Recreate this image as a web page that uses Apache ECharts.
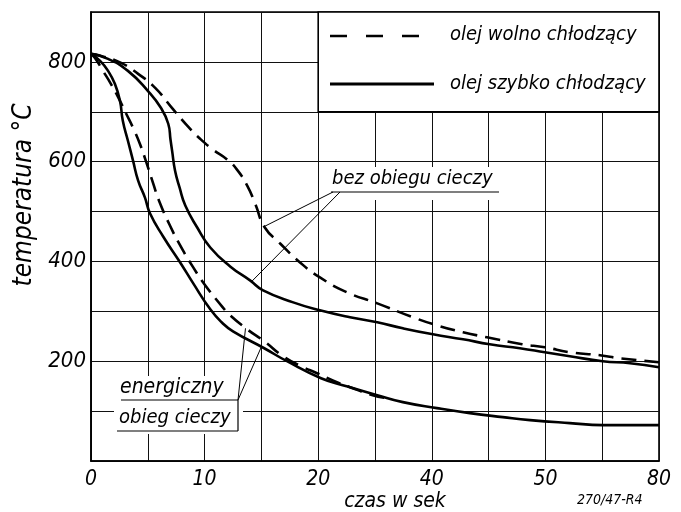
<!DOCTYPE html>
<html><head><meta charset="utf-8">
<script src="https://cdn.jsdelivr.net/npm/echarts/dist/echarts.min.js"></script>
<style>html,body{margin:0;padding:0;background:#fff}#c{width:681px;height:512px}</style>
</head><body><div id="c"></div>
<script>
// x positions are in grid columns (0..10); labelled every 2 columns
const xTickLabels = ['0', '10', '20', '40', '50', '80'];
const yTickLabels = [200, 400, 600, 800];

// olej wolno chłodzący – bez obiegu cieczy (dashed)
const slowNoneX = [0, 0.18, 0.53, 0.83, 1.13, 1.41, 1.71, 1.92, 2.15, 2.39, 2.57, 2.75, 2.89, 3.06, 3.33, 3.68, 4.03, 4.51, 5.04, 5.67, 6.09, 6.55, 6.97, 7.59, 7.99, 8.43, 8.96, 9.31, 10];
const slowNoneY = [816, 812, 798, 776, 748, 710, 670, 646, 624, 605, 584, 552, 516, 468, 436, 398, 368, 338, 316, 288, 272, 258, 248, 234, 228, 218, 212, 206, 198];
// olej szybko chłodzący – bez obiegu cieczy (solid)
const fastNoneX = [0, 0.3, 0.65, 1.0, 1.23, 1.36, 1.40, 1.43, 1.48, 1.56, 1.66, 1.87, 2.1, 2.45, 2.8, 3.03, 3.56, 4.03, 4.56, 5.04, 5.49, 6.02, 6.55, 7.02, 7.55, 7.99, 8.43, 9.01, 9.49, 10];
const fastNoneY = [816, 806, 782, 742, 708, 676, 644, 620, 582, 548, 512, 468, 428, 390, 362, 342, 318, 302, 288, 278, 266, 254, 244, 234, 226, 218, 210, 200, 196, 188];
// olej wolno chłodzący – energiczny obieg cieczy (dashed)
const slowCircX = [0, 0.07, 0.21, 0.35, 0.51, 0.62, 0.74, 0.86, 0.97, 1.09, 1.21, 1.39, 1.57, 1.8, 2.0, 2.32, 2.45, 2.75, 3.05, 3.38, 3.7, 3.98, 4.33, 4.56, 4.96, 5.3];
const slowCircY = [816, 808, 782, 756, 722, 696, 668, 636, 600, 558, 518, 472, 432, 388, 354, 308, 292, 264, 240, 210, 190, 176, 158, 148, 132, 124];
// olej szybko chłodzący – energiczny obieg cieczy (solid)
const fastCircX = [0, 0.16, 0.3, 0.42, 0.51, 0.56, 0.65, 0.74, 0.83, 0.95, 1.04, 1.27, 1.57, 1.8, 2.1, 2.3, 2.5, 3.05, 3.45, 4.05, 4.5, 5.04, 5.49, 6.09, 6.67, 7.25, 7.73, 8.43, 9.01, 10];
const fastCircY = [816, 802, 782, 756, 722, 682, 642, 602, 562, 528, 496, 450, 398, 356, 304, 278, 260, 226, 200, 166, 150, 132, 118, 106, 96, 88, 82, 76, 72, 72];

const legendNames = ['olej wolno chłodzący', 'olej szybko chłodzący'];
const FONT = "'DejaVu Sans Condensed', 'DejaVu Sans', sans-serif";

const chart = echarts.init(document.getElementById('c'), null, {renderer: 'canvas'});
const pts = (xs, ys) => xs.map((x, i) => [x, ys[i]]);
const mk = (name, xs, ys, dashed) => ({
  type: 'line', name, data: pts(xs, ys), symbol: 'none', showSymbol: false,
  smooth: 0.5, silent: true, z: 2,
  lineStyle: {color: '#000', width: 2.6, type: dashed ? [15, 8] : 'solid', cap: 'butt', join: 'round'}
});

chart.setOption({
  animation: false,
  backgroundColor: '#fff',
  grid: {left: 91, right: 22, top: 12, bottom: 51, show: true, borderColor: '#000', borderWidth: 1.6},
  xAxis: {
    type: 'value', min: 0, max: 10, interval: 1,
    axisLine: {show: true, lineStyle: {color: '#000', width: 1.6}},
    axisTick: {show: false},
    splitLine: {show: true, lineStyle: {color: '#111', width: 1}},
    axisLabel: {
      margin: 8, color: '#000', fontSize: 21, fontStyle: 'italic', fontFamily: FONT,
      formatter: v => (Math.round(v) % 2 === 0 ? xTickLabels[Math.round(v) / 2] : '')
    }
  },
  yAxis: {
    type: 'value', min: 0, max: 900, interval: 100,
    axisLine: {show: true, lineStyle: {color: '#000', width: 1.6}},
    axisTick: {show: false},
    splitLine: {show: true, lineStyle: {color: '#111', width: 1}},
    axisLabel: {
      margin: 5, color: '#000', fontSize: 22, fontStyle: 'italic', fontFamily: FONT,
      formatter: v => (yTickLabels.indexOf(v) >= 0 ? String(v) : '')
    }
  },
  series: [
    mk(legendNames[0], slowNoneX, slowNoneY, true),
    mk(legendNames[1], fastNoneX, fastNoneY, false),
    mk(legendNames[0], slowCircX, slowCircY, true),
    mk(legendNames[1], fastCircX, fastCircY, false)
  ]
});

const P = (x, y) => chart.convertToPixel({gridIndex: 0}, [x, y]);
const boxTL = P(4, 900), boxBR = P(10, 700);
const txt = (text, x, y, size, align) => ({
  type: 'text', x, y, z: 5,
  style: {text, fill: '#000', font: 'italic ' + size + 'px ' + FONT, textAlign: align || 'left', textVerticalAlign: 'middle'}
});
const seg = (x1, y1, x2, y2, w, dash, z) => ({
  type: 'line', z: z || 5, shape: {x1, y1, x2, y2},
  style: {stroke: '#000', lineWidth: w, lineDash: dash || null}
});

const a1 = P(3.05, 470), a2 = P(2.83, 360), e1 = P(2.72, 266), e2 = P(3.0, 229);
const yName = txt('temperatura °C', 24, 195, 26, 'center');
yName.rotation = Math.PI / 2;

chart.setOption({
  graphic: [
    // legend box
    {type: 'rect', z: 4, shape: {x: boxTL[0], y: boxTL[1], width: boxBR[0] - boxTL[0], height: boxBR[1] - boxTL[1]},
      style: {fill: '#fff', stroke: '#000', lineWidth: 1.6}},
    seg(330, 36, 434, 36, 2.6, [17, 19]),
    txt(legendNames[0], 450, 35, 20),
    seg(330, 84, 434, 84, 2.8),
    txt(legendNames[1], 450, 84, 20),
    // annotation background patches
    {type: 'rect', z: 1, shape: {x: 323, y: 167, width: 182, height: 33}, style: {fill: '#fff'}},
    {type: 'rect', z: 1, shape: {x: 114, y: 376, width: 129, height: 58}, style: {fill: '#fff'}},
    // bez obiegu cieczy
    txt('bez obiegu cieczy', 332, 179, 20),
    seg(331, 192, 499, 192, 1.2),
    seg(333, 192, a1[0], a1[1], 1),
    seg(340, 192, a2[0], a2[1], 1),
    // energiczny obieg cieczy
    txt('energiczny', 120, 388, 21),
    seg(121, 400, 238, 400, 1.2),
    txt('obieg cieczy', 119, 418, 20),
    seg(117, 431, 238, 431, 1.2),
    seg(238, 400, 238, 431, 1.2),
    seg(238, 400, e1[0], e1[1], 1),
    seg(238, 400, e2[0], e2[1], 1),
    // axis names
    yName,
    txt('czas w sek', 395, 502, 21, 'center'),
    txt('270/47-R4', 577, 500, 14)
  ]
});
</script></body></html>
